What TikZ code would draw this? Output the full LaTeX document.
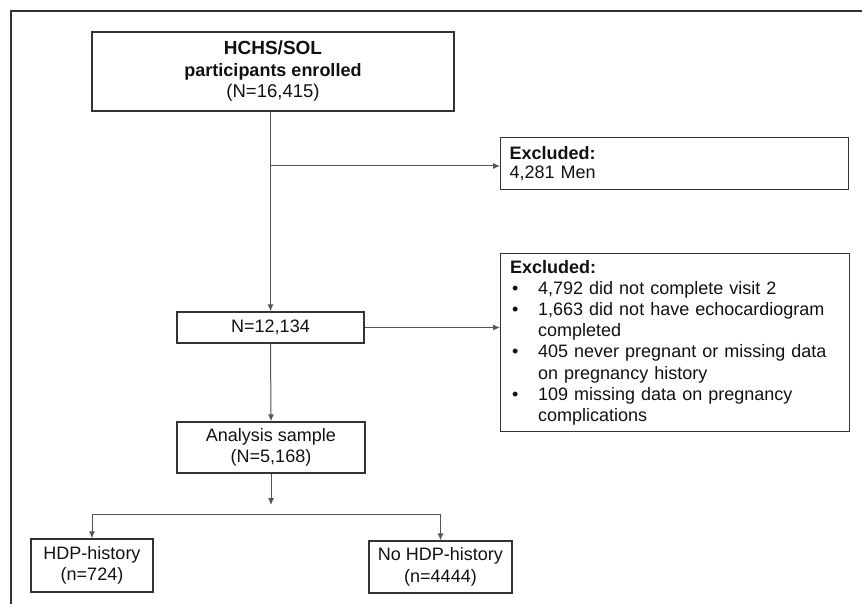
\documentclass[tikz,border=0pt]{standalone}
\usepackage{fontspec}
\setmainfont{Liberation Sans}
\usetikzlibrary{arrows.meta}
\definecolor{boxline}{HTML}{333333}
\definecolor{connline}{HTML}{555555}
\definecolor{txt}{HTML}{111111}
\begin{document}
\begin{tikzpicture}[x=1pt,y=-1pt,
  box/.style={draw=boxline,line width=1.4pt,align=center,text=txt,
    font=\fontsize{18}{21.5}\selectfont,inner sep=0pt},
  lbox/.style={box,anchor=north west,align=left,text width=330pt,inner xsep=9pt},
  conn/.style={draw=connline,line width=1pt,-{Latex[length=7pt,width=6pt]}},
  plainline/.style={draw=connline,line width=1pt}]
\useasboundingbox (0,0) rectangle (862,604);
\draw[line width=2.5pt,black!80] (11,604) -- (11,11) -- (862,11);

\node[box,minimum width=362pt,minimum height=79pt] (top) at (273,71.5)
  {\fontsize{19}{24.5}\selectfont\textbf{HCHS/SOL}\\\textbf{participants enrolled}\\{\fontsize{18.5}{23}\selectfont(N=16,415)}};
\node[lbox,minimum width=347pt,minimum height=52pt,font=\fontsize{18}{19.5}\selectfont] (ex1) at (500,137)
  {\textbf{Excluded:}\\4,281 Men};
\node[box,minimum width=187pt,minimum height=31pt] (n1) at (270.5,327.5) {N=12,134};
\node[lbox,minimum width=349pt,minimum height=178pt,font=\fontsize{18}{21.2}\selectfont] (ex2) at (500,253)
  {\textbf{Excluded:}\\
   \makebox[28pt][l]{\hspace{2pt}\textbullet}4,792 did not complete visit 2\\
   \makebox[28pt][l]{\hspace{2pt}\textbullet}1,663 did not have echocardiogram\\
   \hspace*{28pt}completed\\
   \makebox[28pt][l]{\hspace{2pt}\textbullet}405 never pregnant or missing data\\
   \hspace*{28pt}on pregnancy history\\
   \makebox[28pt][l]{\hspace{2pt}\textbullet}109 missing data on pregnancy\\
   \hspace*{28pt}complications};
\node[box,minimum width=188pt,minimum height=51pt] (an) at (271,447.5) {Analysis sample\\(N=5,168)};
\node[box,minimum width=122pt,minimum height=53pt] (hdp) at (92,565.5) {HDP-history\\(n=724)};
\node[box,minimum width=143pt,minimum height=52pt] (nohdp) at (440.5,567) {No HDP-history\\(n=4444)};

\coordinate (br1) at (271,166);
\coordinate (anend) at (271,505);
\coordinate (splitL) at (92,514);
\coordinate (splitR) at (440.5,514);

\draw[conn] (n1.north |- top.south) -- (n1.north);
\draw[conn] (br1) -- (ex1.west |- br1);
\draw[conn] (n1.east) -- (ex2.west |- n1.east);
\draw[conn] (n1.south) -- (an.north);
\draw[conn] (an.south) -- (anend);
\draw[conn] (splitR) -- (splitL) -- (hdp.north);
\draw[conn] (splitR) -- (nohdp.north);
\end{tikzpicture}
\end{document}
